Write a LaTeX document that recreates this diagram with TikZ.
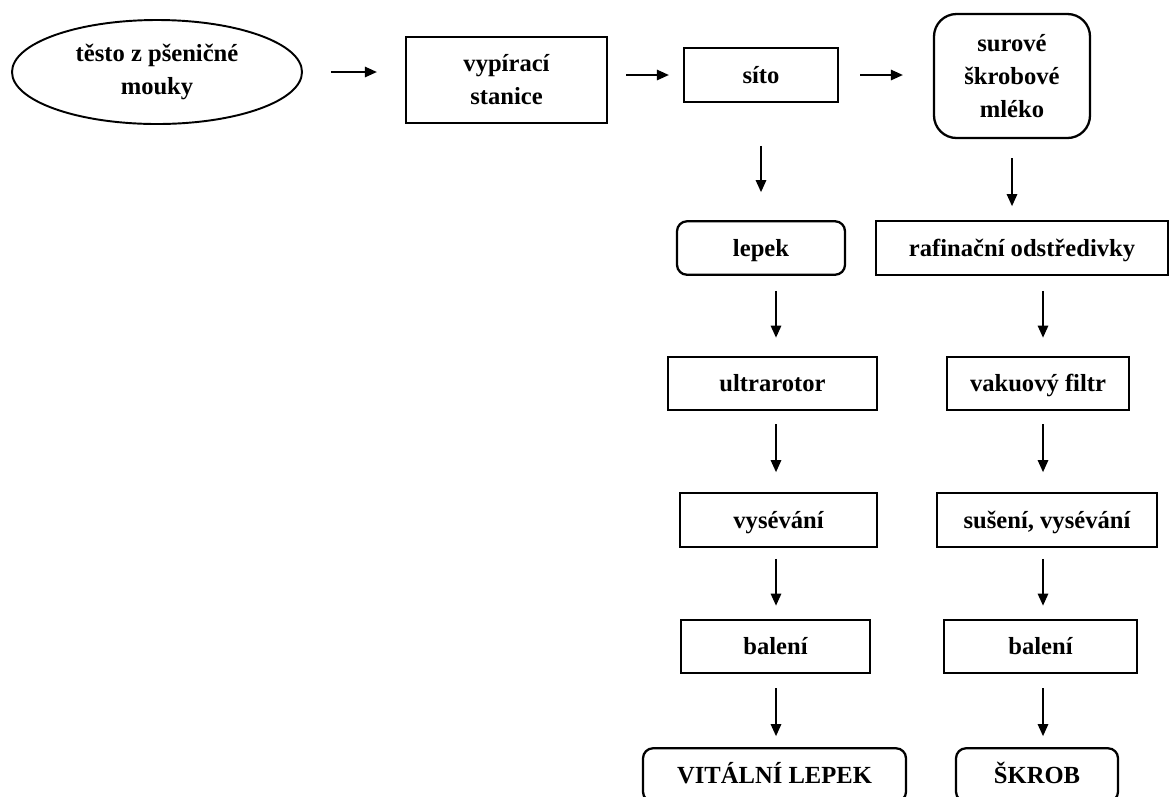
\documentclass[tikz,border=0pt]{standalone}
\usepackage{fontspec}
\setmainfont{Liberation Serif}
\usetikzlibrary{arrows.meta,shapes.geometric}

\begin{document}
\begin{tikzpicture}[
  font=\bfseries\fontsize{14}{18.8}\selectfont,
  box/.style={draw,line width=1.3pt,inner sep=0pt,minimum height=1.07cm,text height=0.34cm,text depth=0.02cm},
  bigbox/.style={draw,line width=1.3pt,inner sep=0pt,align=center},
  rbox/.style={box,rounded corners=0.2cm},
  flow/.style={line width=0.8pt,-{Triangle[length=2.4mm,width=2.1mm]}}
]
\useasboundingbox (0,0) rectangle (23.42,-15.92);

% Columns for the vertical arrows.
\coordinate (colL) at (15.52,0);
\coordinate (colR) at (20.86,0);

% Top row: dough, washing station, sieve, starch milk.
\node[draw,ellipse,line width=1.1pt,minimum width=5.8cm,minimum height=2.08cm,align=center,inner sep=0pt] (testo) at (3.14,-1.44) {těsto z pšeničné\\mouky};
\node[bigbox,minimum width=4.02cm,minimum height=1.72cm] (vyp) at (10.13,-1.60) {vypírací\\stanice};
\node[box,minimum width=3.08cm] (sito) at (15.22,-1.50) {síto};
\node[bigbox,rounded corners=0.45cm,minimum width=3.12cm,minimum height=2.48cm] (surove) at (20.24,-1.52) {surové\\škrobové\\mléko};

% Gluten branch.
\node[rbox,minimum width=3.36cm] (lepek) at (15.22,-4.96) {lepek};
\node[box,minimum width=4.18cm] (ultra) at (15.45,-7.67) {ultrarotor};
\node[box,minimum width=3.94cm] (vysL) at (15.57,-10.40) {vysévání};
\node[box,minimum width=3.78cm] (balL) at (15.51,-12.93) {balení};
\node[rbox,minimum width=5.26cm] (vital) at (15.49,-15.50) {VITÁLNÍ LEPEK};

% Starch branch.
\node[box,minimum width=5.84cm] (rafin) at (20.44,-4.96) {rafinační odstředivky};
\node[box,minimum width=3.64cm] (vakuum) at (20.76,-7.67) {vakuový filtr};
\node[box,minimum width=4.40cm] (suseni) at (20.94,-10.40) {sušení, vysévání};
\node[box,minimum width=3.86cm] (balR) at (20.81,-12.93) {balení};
\node[rbox,minimum width=3.24cm] (skrob) at (20.74,-15.50) {ŠKROB};

% Horizontal arrows.
\draw[flow,shorten <=0.56cm,shorten >=0.56cm] (testo.east) -- (testo.east -| vyp.west);
\draw[flow,shorten <=0.36cm,shorten >=0.28cm] (vyp.east |- sito.west) -- (sito.west);
\draw[flow,shorten <=0.42cm,shorten >=0.60cm] (sito.east) -- (sito.east -| surove.west);

% Vertical arrows.
\draw[flow,shorten <=0.86cm,shorten >=0.56cm] (sito.south) -- (lepek.north);
\draw[flow,shorten <=0.38cm,shorten >=0.28cm] (surove.south) -- (surove.south |- rafin.north);
\draw[flow,shorten <=0.30cm,shorten >=0.36cm] (lepek.south -| colL) -- (ultra.north -| colL);
\draw[flow,shorten <=0.30cm,shorten >=0.36cm] (rafin.south -| colR) -- (vakuum.north -| colR);
\draw[flow,shorten <=0.26cm,shorten >=0.40cm] (ultra.south -| colL) -- (vysL.north -| colL);
\draw[flow,shorten <=0.26cm,shorten >=0.40cm] (vakuum.south -| colR) -- (suseni.north -| colR);
\draw[flow,shorten <=0.22cm,shorten >=0.26cm] (vysL.south -| colL) -- (balL.north -| colL);
\draw[flow,shorten <=0.22cm,shorten >=0.26cm] (suseni.south -| colR) -- (balR.north -| colR);
\draw[flow,shorten <=0.28cm,shorten >=0.22cm] (balL.south -| colL) -- (vital.north -| colL);
\draw[flow,shorten <=0.28cm,shorten >=0.22cm] (balR.south -| colR) -- (skrob.north -| colR);

\end{tikzpicture}
\end{document}
